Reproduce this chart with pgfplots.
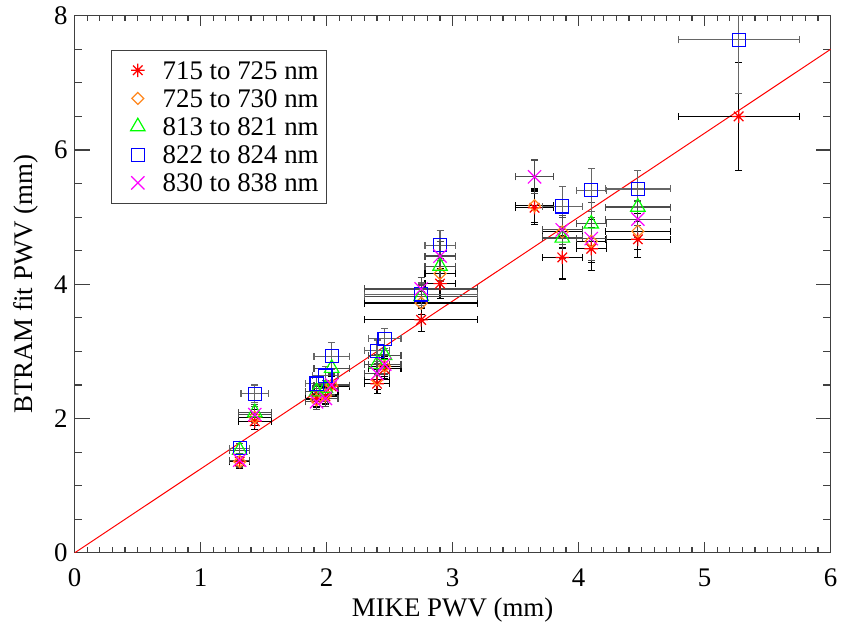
\documentclass[border=0pt]{standalone}
\usepackage{fontspec}
\setmainfont{Liberation Serif}
\usepackage{pgfplots}
\usepackage{pgfplotstable}
\pgfplotsset{compat=1.18}

\definecolor{idlorange}{RGB}{255,135,30}
\definecolor{idlgreen}{RGB}{0,255,0}
\definecolor{idlblue}{RGB}{0,0,255}
\definecolor{idlmagenta}{RGB}{255,0,255}

% eight-spoke asterisk like IDL psym=2
\pgfdeclareplotmark{idlstar}{%
  \pgfpathmoveto{\pgfqpoint{-\pgfplotmarksize}{0pt}}%
  \pgfpathlineto{\pgfqpoint{\pgfplotmarksize}{0pt}}%
  \pgfpathmoveto{\pgfqpoint{0pt}{-\pgfplotmarksize}}%
  \pgfpathlineto{\pgfqpoint{0pt}{\pgfplotmarksize}}%
  \pgfpathmoveto{\pgfqpoint{-.7071\pgfplotmarksize}{-.7071\pgfplotmarksize}}%
  \pgfpathlineto{\pgfqpoint{.7071\pgfplotmarksize}{.7071\pgfplotmarksize}}%
  \pgfpathmoveto{\pgfqpoint{-.7071\pgfplotmarksize}{.7071\pgfplotmarksize}}%
  \pgfpathlineto{\pgfqpoint{.7071\pgfplotmarksize}{-.7071\pgfplotmarksize}}%
  \pgfusepathqstroke
}
\pgfdeclareplotmark{idldiamond}{%
  \pgfpathmoveto{\pgfqpoint{0pt}{\pgfplotmarksize}}%
  \pgfpathlineto{\pgfqpoint{\pgfplotmarksize}{0pt}}%
  \pgfpathlineto{\pgfqpoint{0pt}{-\pgfplotmarksize}}%
  \pgfpathlineto{\pgfqpoint{-\pgfplotmarksize}{0pt}}%
  \pgfpathclose
  \pgfusepathqstroke
}

% x = MIKE PWV, ex = its error, y = BTRAM fit PWV, ey = its error
\pgfplotstableread{
x    ex    y     ey
1.31 0.08  1.36  0.10
1.43 0.13  1.96  0.12
1.92 0.09  2.30  0.12
1.99 0.10  2.33  0.12
2.04 0.14  2.48  0.15
2.40 0.10  2.52  0.15
2.46 0.13  2.74  0.15
2.75 0.45  3.47  0.17
2.90 0.12  4.01  0.22
3.65 0.15  5.14  0.25
3.87 0.16  4.40  0.32
4.10 0.12  4.53  0.32
4.47 0.26  4.67  0.27
5.27 0.48  6.50  0.80
}\tblA
\pgfplotstableread{
x    ex    y     ey
1.31 0.08  1.36  0.10
1.43 0.13  2.02  0.12
1.92 0.09  2.28  0.12
1.99 0.10  2.35  0.12
2.04 0.14  2.50  0.15
2.40 0.10  2.58  0.15
2.46 0.13  2.78  0.15
2.75 0.45  3.72  0.17
2.90 0.12  4.16  0.22
3.65 0.15  5.17  0.25
3.87 0.16  4.78  0.24
4.10 0.12  4.64  0.32
4.47 0.26  4.79  0.27
}\tblB
\pgfplotstableread{
x    ex    y     ey
1.31 0.08  1.53  0.10
1.43 0.13  2.09  0.12
1.92 0.09  2.40  0.12
1.99 0.10  2.45  0.12
2.04 0.14  2.75  0.08
2.40 0.10  2.81  0.15
2.46 0.13  2.94  0.15
2.75 0.45  3.82  0.17
2.90 0.12  4.27  0.22
3.87 0.16  4.69  0.30
4.10 0.12  4.90  0.32
4.47 0.26  5.15  0.27
}\tblC
\pgfplotstableread{
x    ex    y     ey
1.31 0.08  1.56  0.10
1.43 0.11  2.37  0.13
1.92 0.09  2.52  0.12
1.99 0.10  2.64  0.13
2.04 0.14  2.93  0.20
2.40 0.10  3.01  0.16
2.46 0.13  3.19  0.15
2.75 0.45  3.85  0.17
2.90 0.12  4.58  0.22
3.87 0.16  5.16  0.30
4.10 0.12  5.40  0.32
4.47 0.26  5.42  0.27
5.27 0.48  7.64  0.80
}\tblD
\pgfplotstableread{
x    ex    y     ey
1.31 0.08  1.38  0.10
1.43 0.13  2.06  0.12
1.92 0.09  2.25  0.12
1.99 0.10  2.30  0.12
2.04 0.14  2.50  0.15
2.40 0.10  2.67  0.15
2.46 0.13  2.81  0.15
2.75 0.45  3.93  0.17
2.90 0.12  4.42  0.22
3.65 0.15  5.60  0.25
3.87 0.16  4.81  0.22
4.10 0.12  4.68  0.32
4.47 0.26  4.97  0.27
}\tblE

\pgfplotsset{
  frame/.style={
    scale only axis, width=380pt, height=270pt,
    xmin=0, xmax=6, ymin=0, ymax=8,
    axis line style={black!75, line width=0.6pt},
    tick align=inside, tick pos=both,
    tick style={black!75, line width=0.6pt},
    /pgf/number format/assume math mode=true,
  },
  errs/.style={
    error bars/.cd, x dir=both, x explicit, y dir=both, y explicit,
    error bar style={#1, line width=0.6pt},
    error mark options={#1, mark size=1.75pt, line width=0.6pt, rotate=90},
  },
  % legend: the mark alone, no line
  markonly/.style={
    legend image code/.code={%
      \path[draw=none, fill=none] (0pt,-1pt) rectangle (17.5pt,1pt);
      \draw[##1] plot[only marks] coordinates {(9pt,0pt)};},
  },
}

\begin{document}
\begin{tikzpicture}[font=\fontsize{13.5}{16}\selectfont]
% x ticks (shorter, as IDL scales tick length by the other side)
\begin{axis}[frame,
    xtick={0,1,...,6}, minor x tick num=9, ytick=\empty,
    major tick length=5.4pt, minor tick length=2.7pt,
    xticklabel style={anchor=base, yshift=-17pt},
    xlabel={MIKE PWV (mm)},
    xlabel style={at={(axis description cs:0.5,-0.1185)}, anchor=base},
]
\end{axis}
\begin{axis}[frame,
    ytick={0,2,...,8}, minor y tick num=3, xtick=\empty,
    major tick length=7.6pt, minor tick length=3.8pt,
    ylabel={BTRAM fit PWV (mm)},
    ylabel style={at={(axis description cs:-0.0553,0.5)}, anchor=base},
    legend cell align=left,
    legend style={at={(axis description cs:0.0487,0.937)}, anchor=north west,
      draw=black!75, line width=0.5pt, inner xsep=4pt, inner ysep=3.1pt,
      row sep=0pt, column sep=4pt,
      nodes={inner sep=0pt, text height=11.6pt, text depth=2.55pt},
      font=\fontsize{13.5}{16}\selectfont},
]
\addplot[red, line width=0.5pt, forget plot] coordinates {(0,0) (6,7.5)};

\addplot[only marks, red, mark=idlstar, mark size=3.4pt, mark options={line width=0.6pt},
    markonly, errs=black]
  table[x=x, y=y, x error=ex, y error=ey] {\tblA};
\addlegendentry{715 to 725 nm}
\addplot[only marks, idlorange, mark=idldiamond, mark size=3pt, mark options={line width=0.6pt},
    markonly, errs=black]
  table[x=x, y=y, x error=ex, y error=ey] {\tblB};
\addlegendentry{725 to 730 nm}
\addplot[only marks, idlgreen, mark=triangle, mark size=4.2pt, mark options={line width=0.6pt},
    markonly, errs=black!70]
  table[x=x, y=y, x error=ex, y error=ey] {\tblC};
\addlegendentry{813 to 821 nm}
\addplot[only marks, idlblue, mark=square, mark size=3.3pt, mark options={line width=0.6pt},
    markonly, errs=black!60]
  table[x=x, y=y, x error=ex, y error=ey] {\tblD};
\addlegendentry{822 to 824 nm}
\addplot[only marks, idlmagenta, mark=x, mark size=4.7pt, mark options={line width=0.6pt},
    markonly, errs=black!70]
  table[x=x, y=y, x error=ex, y error=ey] {\tblE};
\addlegendentry{830 to 838 nm}
\end{axis}
\path ([xshift=-37.5pt, yshift=-36pt]current axis.south west)
  rectangle ([xshift=4.5pt, yshift=5pt]current axis.north east);
\end{tikzpicture}
\end{document}
